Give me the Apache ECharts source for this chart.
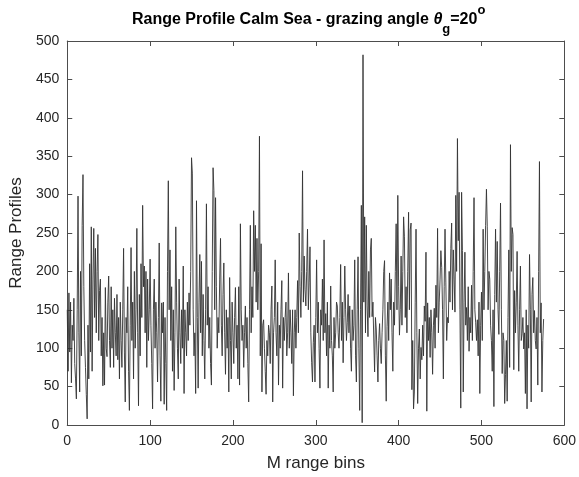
<!DOCTYPE html>
<html>
<head>
<meta charset="utf-8">
<script src="https://cdn.jsdelivr.net/npm/echarts@6/dist/echarts.min.js"></script>
<style>html,body{margin:0;padding:0;background:#fff}#c{width:579px;height:477px}</style>
</head>
<body>
<div id="c"></div>
<script>
const xTicks = [0, 100, 200, 300, 400, 500, 600];
const yTicks = [0, 50, 100, 150, 200, 250, 300, 350, 400, 450, 500];
const rangeProfile = [
150,70,172,95,160,55,130,110,165,80,
60,34,150,298,120,43,200,90,260,326,
180,110,75,40,8,130,60,210,95,258,
70,190,256,140,230,120,200,248,110,175,
190,90,140,51,120,52,179,100,89,160,
194,110,75,180,100,150,75,165,120,90,
170,85,140,60,160,110,75,150,230,95,
30,140,120,180,70,19,130,231,110,160,
60,200,100,150,256,120,25,170,90,210,
140,286,180,207,120,200,75,190,110,150,
216,130,80,21,150,190,100,160,120,56,
140,237,90,31,159,120,160,27,140,80,
19,200,318,150,228,110,180,70,150,45,
120,258,160,100,60,190,120,80,150,100,
207,41,150,120,90,160,110,172,130,200,
348,328,150,90,120,41,292,140,48,160,
222,120,213,90,170,110,60,150,288,130,
180,100,140,80,52,200,335,305,150,296,
180,100,140,120,190,243,130,90,170,211,
120,66,150,100,140,43,192,110,60,160,
120,80,140,179,100,130,60,180,52,262,
150,110,130,75,120,155,100,140,80,30,
150,260,120,180,140,279,200,260,160,243,
150,200,376,90,236,43,130,137,100,70,
40,110,90,130,120,80,150,181,30,120,
140,215,120,90,160,52,130,100,150,188,
48,140,110,140,160,90,120,198,100,150,
120,80,150,38,120,150,100,140,188,120,
250,180,140,200,331,160,220,176,155,200,
255,150,186,232,120,81,56,107,130,56,
140,215,120,160,100,48,150,130,190,110,
241,120,145,90,160,48,130,100,181,110,
90,43,140,100,120,160,155,120,100,140,
209,110,160,81,140,207,150,110,133,170,
120,155,100,70,150,110,130,215,90,56,
150,219,100,19,150,286,3,482,160,271,
120,260,155,115,200,140,228,243,141,160,
112,69,140,125,90,56,110,132,100,80,
120,150,200,214,90,31,128,160,110,198,
150,190,120,70,160,130,200,262,150,299,
180,117,150,220,130,200,271,245,140,180,
120,200,277,150,254,263,46,110,21,43,
159,255,120,28,100,125,60,101,85,130,
90,155,135,225,18,159,110,140,88,150,
120,66,130,152,100,182,140,256,120,160,
190,227,205,150,60,180,255,185,110,140,
133,200,160,230,263,150,228,190,147,299,
200,373,240,303,150,22,303,227,43,160,
225,130,153,110,180,96,140,120,182,110,
200,296,150,133,110,137,90,160,41,130,
173,110,255,150,200,260,307,258,150,200,
190,130,110,70,150,24,170,255,160,239,
150,118,200,289,150,67,120,110,28,66,
110,31,140,228,75,365,200,257,248,72,
175,120,160,226,130,70,150,207,110,119,
140,99,120,41,150,21,130,100,222,150,
30,170,192,120,149,110,99,140,52,200,
343,120,159,43,110,138
];

const chart = echarts.init(document.getElementById('c'), null, {renderer: 'canvas'});
const font = 'Liberation Sans, Arial, Helvetica, sans-serif';
const axisColor = '#262626';
const frameColor = '#4d4d4d';
const data = rangeProfile.map((v, i) => [i, v]);

chart.setOption({
  animation: false,
  backgroundColor: '#ffffff',
  title: {
    left: 127, top: -1,
    text: '{a|Range Profile Calm Sea - grazing angle }{th|θ}{sub|g}{a|=20}{sup|o}',
    textStyle: {
      rich: {
        a: {fontFamily: font, fontSize: 16, fontWeight: 'bold', color: '#000', lineHeight: 32, verticalAlign: 'middle'},
        th: {fontFamily: font, fontSize: 16, fontStyle: 'italic', color: '#000', lineHeight: 32, verticalAlign: 'middle'},
        sub: {fontFamily: font, fontSize: 13, fontWeight: 'bold', color: '#000', lineHeight: 14, verticalAlign: 'bottom'},
        sup: {fontFamily: font, fontSize: 13, fontWeight: 'bold', color: '#000', lineHeight: 14, verticalAlign: 'top'}
      }
    }
  },
  grid: {left: 66, top: 41, width: 499, height: 390, containLabel: false},
  xAxis: [{
    type: 'value', min: 0, max: 600, interval: 100,
    name: 'M range bins', nameLocation: 'middle', nameGap: 30,
    nameTextStyle: {fontFamily: font, fontSize: 17, color: axisColor},
    axisLine: {show: true, onZero: false, lineStyle: {color: frameColor, width: 1}},
    axisTick: {show: true, inside: true, length: 5, lineStyle: {color: frameColor}},
    axisLabel: {fontFamily: font, fontSize: 14, color: axisColor, margin: 9,
      formatter: v => xTicks.includes(v) ? String(v) : ''},
    splitLine: {show: false}
  }, {
    type: 'value', position: 'top', min: 0, max: 600, interval: 100,
    axisLine: {show: true, onZero: false, lineStyle: {color: frameColor, width: 1}},
    axisTick: {show: true, inside: true, length: 5, lineStyle: {color: frameColor}},
    axisLabel: {show: false}, splitLine: {show: false}
  }],
  yAxis: [{
    type: 'value', min: 0, max: 500, interval: 50,
    name: 'Range Profiles', nameLocation: 'middle', nameGap: 34, nameRotate: 90,
    nameTextStyle: {fontFamily: font, fontSize: 17, color: axisColor},
    axisLine: {show: true, onZero: false, lineStyle: {color: frameColor, width: 1}},
    axisTick: {show: true, inside: true, length: 5, lineStyle: {color: frameColor}},
    axisLabel: {fontFamily: font, fontSize: 14, color: axisColor, margin: 8,
      formatter: v => yTicks.includes(v) ? String(v) : ''},
    splitLine: {show: false}
  }, {
    type: 'value', position: 'right', min: 0, max: 500, interval: 50,
    axisLine: {show: true, onZero: false, lineStyle: {color: frameColor, width: 1}},
    axisTick: {show: true, inside: true, length: 5, lineStyle: {color: frameColor}},
    axisLabel: {show: false}, splitLine: {show: false}
  }],
  series: [{
    type: 'line', data: data, showSymbol: false, symbol: 'none',
    lineStyle: {color: '#333333', width: 0.9},
    silent: true
  }]
});
</script>
</body>
</html>
